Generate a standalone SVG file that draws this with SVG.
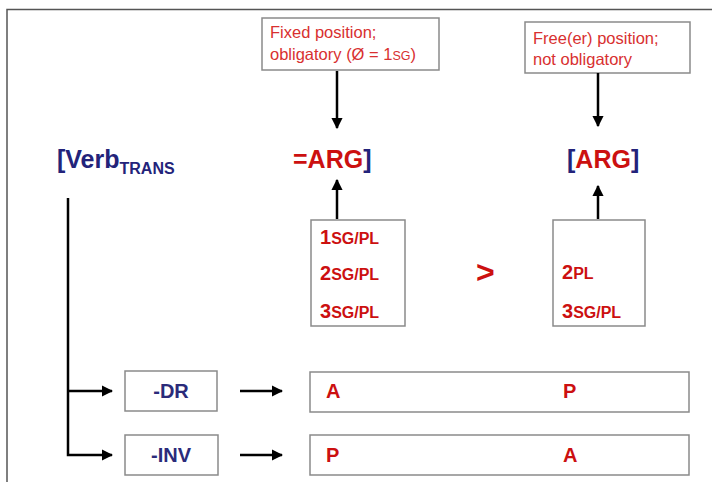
<svg xmlns="http://www.w3.org/2000/svg" width="712" height="482" viewBox="0 0 712 482">
<defs>
<marker id="ah" viewBox="0 0 10 10" refX="9" refY="5" markerWidth="4.5" markerHeight="4.5" orient="auto" markerUnits="strokeWidth">
<path d="M0,0 L10,5 L0,10 z" fill="#000"/>
</marker>
</defs>
<style>
.box{fill:#fff;stroke:#8a8a8a;stroke-width:1.5}
.con{stroke:#000;stroke-width:2.5;fill:none}
.note{font-family:"Liberation Sans",Arial,sans-serif;font-size:16.5px;fill:#d83030}
.red{font-family:"Liberation Sans",Arial,sans-serif;font-weight:bold;fill:#cc1010}
.navy{fill:#23237a}
.big{font-size:25px}
.item{font-family:"Liberation Sans",Arial,sans-serif;font-weight:bold;font-size:20px;fill:#cc1010}
.sc{font-size:16px}
.lbl{font-family:"Liberation Sans",Arial,sans-serif;font-weight:bold;font-size:20px;fill:#2b2b7a}
</style>
<rect width="712" height="482" fill="#fff"/>
<g id="frame">
<path d="M712,9.5 H7 V482" fill="none" stroke="#555" stroke-width="1.5"/>
</g>
<g id="note-fixed">
<rect class="box" x="262" y="18" width="177" height="52"/>
<text class="note" x="270" y="38">Fixed position;</text>
<text class="note" x="270" y="60">obligatory (Ø = 1<tspan font-size="12.5">SG</tspan>)</text>
</g>
<g id="note-free">
<rect class="box" x="525" y="22" width="165" height="51"/>
<text class="note" x="533" y="44">Free(er) position;</text>
<text class="note" x="533" y="65">not obligatory</text>
</g>
<g id="verb">
<text class="red navy big" x="57" y="168">[Verb<tspan font-size="16" dy="6">TRANS</tspan></text>
</g>
<g id="arg1">
<text class="red big" x="293" y="168">=ARG<tspan class="navy">]</tspan></text>
</g>
<g id="arg2">
<text class="red big" x="567" y="168"><tspan class="navy">[</tspan>ARG<tspan class="navy">]</tspan></text>
</g>
<g id="set1">
<rect class="box" x="311" y="220" width="94" height="106"/>
<text class="item" x="320" y="244">1<tspan class="sc">SG/PL</tspan></text>
<text class="item" x="320" y="280">2<tspan class="sc">SG/PL</tspan></text>
<text class="item" x="320" y="318">3<tspan class="sc">SG/PL</tspan></text>
</g>
<g id="gt">
<text class="red" font-size="32" x="476" y="283">&gt;</text>
</g>
<g id="set2">
<rect class="box" x="553" y="220" width="92" height="106"/>
<text class="item" x="562" y="279">2<tspan class="sc">PL</tspan></text>
<text class="item" x="562" y="318">3<tspan class="sc">SG/PL</tspan></text>
</g>
<g id="dr">
<rect class="box" x="125" y="371" width="92" height="40"/>
<text class="lbl" x="171" y="398" text-anchor="middle">-DR</text>
</g>
<g id="inv">
<rect class="box" x="125" y="435" width="93" height="40"/>
<text class="lbl" x="171" y="462" text-anchor="middle">-INV</text>
</g>
<g id="row-dr">
<rect class="box" x="310" y="372" width="379" height="40"/>
<text class="item" font-size="22" x="326" y="398">A</text>
<text class="item" font-size="22" x="563" y="398">P</text>
</g>
<g id="row-inv">
<rect class="box" x="310" y="435" width="379" height="40"/>
<text class="item" font-size="22" x="326" y="462">P</text>
<text class="item" font-size="22" x="563" y="462">A</text>
</g>
<g id="connectors">
<line class="con" x1="337" y1="71" x2="337" y2="128" marker-end="url(#ah)"/>
<line class="con" x1="598" y1="73" x2="598" y2="126" marker-end="url(#ah)"/>
<line class="con" x1="337" y1="219" x2="337" y2="180" marker-end="url(#ah)"/>
<line class="con" x1="598" y1="219" x2="598" y2="186" marker-end="url(#ah)"/>
<path class="con" d="M68,198 V455 H112" marker-end="url(#ah)"/>
<line class="con" x1="68" y1="391" x2="112" y2="391" marker-end="url(#ah)"/>
<line class="con" x1="240" y1="391" x2="282" y2="391" marker-end="url(#ah)"/>
<line class="con" x1="240" y1="455" x2="282" y2="455" marker-end="url(#ah)"/>
</g>
</svg>
